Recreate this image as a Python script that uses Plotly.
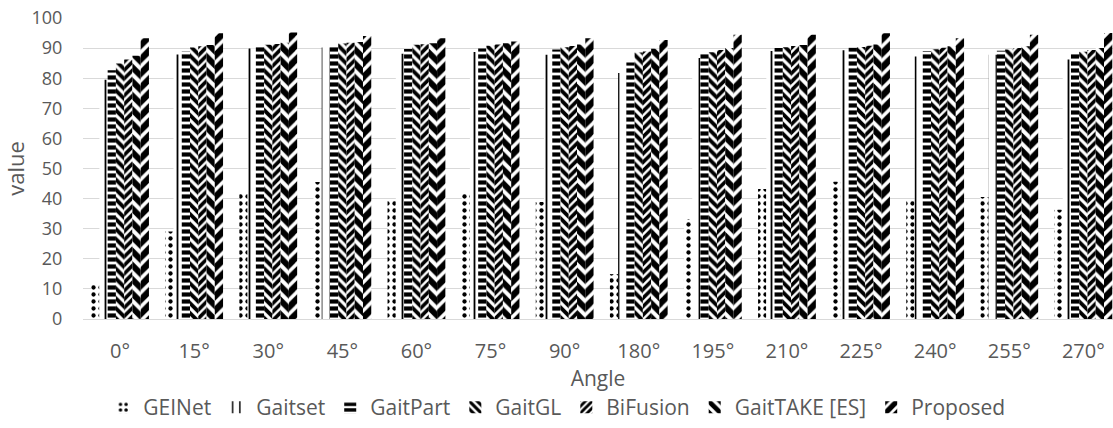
import plotly.graph_objects as go

angles = ["0°", "15°", "30°", "45°", "60°", "75°", "90°", "180°", "195°", "210°", "225°", "240°", "255°", "270°"]

geinet = [11.4, 29.1, 41.5, 45.5, 39.5, 41.8, 38.9, 14.9, 33.1, 43.2, 45.6, 39.4, 40.5, 36.3]
gaitset = [79.5, 87.9, 89.9, 90.2, 88.1, 88.7, 87.8, 81.7, 86.7, 89.0, 89.3, 87.2, 87.8, 86.2]
gaitpart = [82.6, 88.9, 90.8, 91.0, 89.7, 89.9, 89.5, 85.2, 88.1, 90.0, 90.1, 89.0, 89.1, 88.2]
gaitgl = [84.9, 90.2, 91.1, 91.5, 91.1, 90.8, 90.3, 88.5, 88.6, 90.3, 90.4, 89.6, 89.5, 88.8]
bifusion = [86.2, 90.6, 91.4, 91.8, 91.3, 91.2, 90.7, 88.9, 89.4, 90.7, 90.8, 90.1, 90.0, 89.4]
gaittake = [87.5, 91.0, 91.8, 92.0, 91.6, 91.6, 91.2, 89.8, 90.0, 91.0, 91.2, 90.6, 90.6, 90.0]
proposed = [93.3, 94.9, 95.2, 94.0, 93.3, 92.2, 93.3, 92.7, 94.4, 94.4, 94.9, 93.3, 94.4, 95.0]

series = [
    ("GEINet", geinet, dict(shape=".", size=7, solidity=0.3)),
    ("Gaitset", gaitset, dict(shape="|", size=9, solidity=0.2)),
    ("GaitPart", gaitpart, dict(shape="-", size=7, solidity=0.6)),
    ("GaitGL", gaitgl, dict(shape="\\", size=7, solidity=0.55)),
    ("BiFusion", bifusion, dict(shape="/", size=6, solidity=0.6)),
    ("GaitTAKE [ES]", gaittake, dict(shape="\\", size=10, solidity=0.6)),
    ("Proposed", proposed, dict(shape="/", size=10, solidity=0.65)),
]

fig = go.Figure()
for name, vals, pat in series:
    fig.add_trace(go.Bar(
        x=angles, y=vals, name=name,
        marker=dict(color="white", line=dict(width=0),
                    pattern=dict(fgcolor="black", bgcolor="white", fgopacity=1, **pat)),
    ))

txt = "#595959"
fig.update_layout(
    width=1113, height=428,
    margin=dict(l=83, r=0, t=18, b=108),
    paper_bgcolor="white", plot_bgcolor="white",
    font=dict(family="Open Sans", color=txt),
    barmode="group", bargap=0.22, bargroupgap=0,
    legend=dict(orientation="h", x=0.46, xanchor="center", y=-0.295, yanchor="middle",
                font=dict(size=21, color=txt), itemwidth=30, tracegroupgap=0),
    xaxis=dict(type="category", range=[-0.5, 13.4], showgrid=False,
               showline=True, linecolor="#d9d9d9", linewidth=1,
               ticks="outside", ticklen=14, tickcolor="rgba(0,0,0,0)",
               tickfont=dict(size=20, color=txt),
               title=dict(text="Angle", font=dict(size=21, color=txt), standoff=2)),
    yaxis=dict(range=[0, 100], dtick=10, showgrid=True, gridcolor="#d9d9d9", gridwidth=1,
               zeroline=False, showline=False,
               ticks="outside", ticklen=16, tickcolor="rgba(0,0,0,0)",
               tickfont=dict(size=18, color=txt),
               title=dict(text="value", font=dict(size=22, color=txt), standoff=10)),
)

fig.write_html("out.html")
